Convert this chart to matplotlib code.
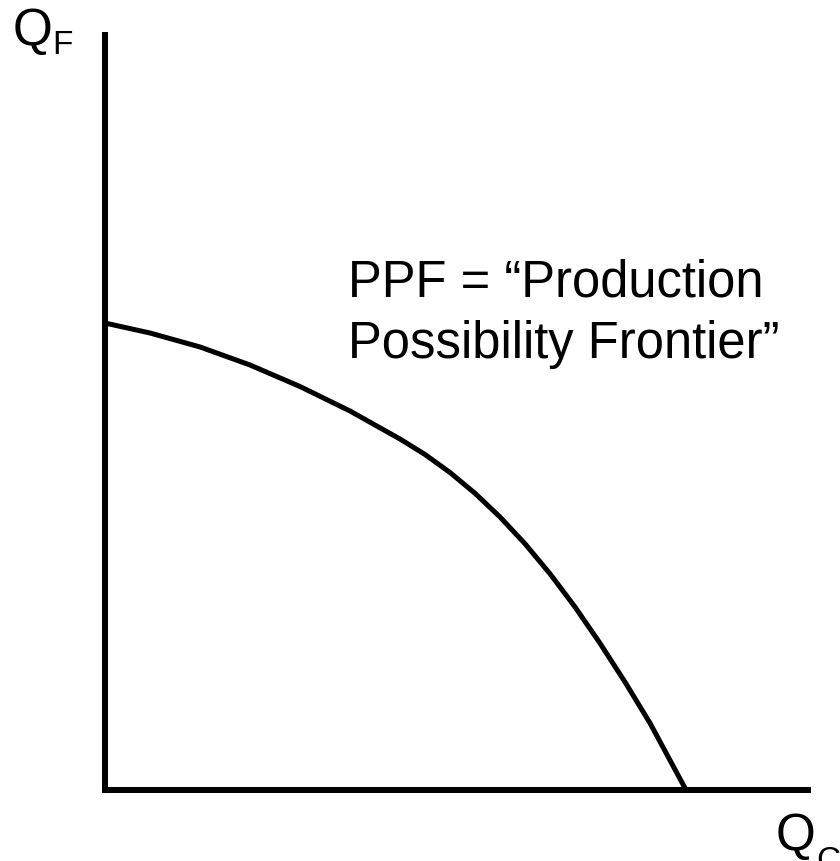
import numpy as np
import matplotlib
matplotlib.use('Agg')
import matplotlib.pyplot as plt

plt.rcParams['font.family'] = ['Liberation Sans', 'DejaVu Sans']

q_c = [0.0, 0.640, 1.351, 2.063, 2.774, 3.485, 4.196, 4.552, 4.908, 5.263,
       5.619, 5.974, 6.330, 6.686, 7.041, 7.397, 7.752, 8.265]
q_f = [6.185, 6.053, 5.868, 5.629, 5.344, 5.020, 4.649, 4.444, 4.205, 3.930,
       3.616, 3.262, 2.864, 2.424, 1.944, 1.430, 0.887, 0.0]

label_line1 = 'PPF = \u201cProduction'
label_line2 = 'Possibility Frontier\u201d'

W, H = 840, 861
fig = plt.figure(figsize=(W / 100, H / 100), dpi=100)
ax = fig.add_axes([105 / W, 1 - 790 / H, (808 - 105) / W, (790 - 35) / H])

ax.plot(q_c, q_f, color='black', lw=3.6, solid_capstyle='butt',
        solid_joinstyle='round', clip_on=False)
ax.set_xlim(0, 10)
ax.set_ylim(0, 10)

for s in ['top', 'right']:
    ax.spines[s].set_visible(False)
for s in ['left', 'bottom']:
    ax.spines[s].set_linewidth(4.3)
    ax.spines[s].set_capstyle('projecting')
ax.set_xticks([])
ax.set_yticks([])

ax.text(3.46, 6.53, label_line1, fontsize=36.5, va='baseline', ha='left')
ax.text(3.46, 5.72, label_line2, fontsize=36.5, va='baseline', ha='left')

# etiquetas de los ejes (Q con subindice)
def px(x, y):
    return x / W, 1 - y / H

fig.text(*px(13, 45), 'Q', fontsize=37, va='baseline', ha='left')
fig.text(*px(52, 54), 'F', fontsize=24, va='baseline', ha='left')
fig.text(*px(776, 850), 'Q', fontsize=37, va='baseline', ha='left')
fig.text(*px(816, 870), 'C', fontsize=24, va='baseline', ha='left')

fig.savefig('out.png', dpi=100)
